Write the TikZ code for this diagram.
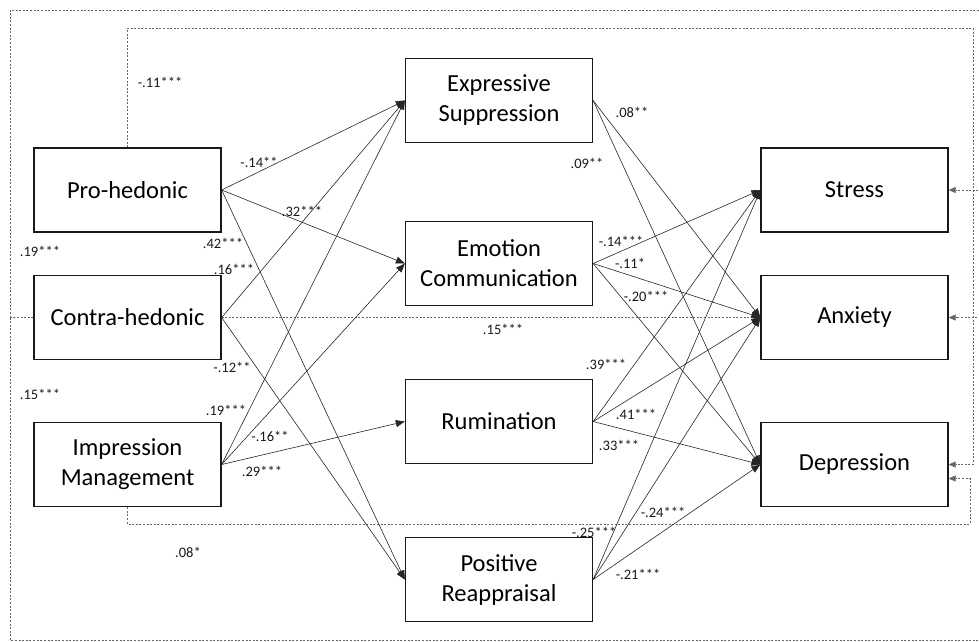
\documentclass[tikz,border=0pt]{standalone}
\usepackage{fontspec}
\setmainfont{Carlito}
\usetikzlibrary{arrows.meta}
\begin{document}
\begin{tikzpicture}[x=1pt,y=-1pt,
  box/.style={draw=black!90, fill=white, line width=1.3pt, minimum width=187pt, minimum height=84pt, inner sep=0pt, align=center, font=\fontsize{24.5}{30}\selectfont},
  arr/.style={draw=black!85, line width=0.6pt, -{Triangle[length=9pt,width=7pt]}},
  cov/.style={draw=black!60, line width=0.6pt, dash pattern=on 2pt off 1.6pt},
  cova/.style={cov, -{Triangle[length=7pt,width=6pt]}},
  lbl/.style={font=\fontsize{14.5}{16}\selectfont, inner sep=0pt, text=black!90},
]
\useasboundingbox (0,0) rectangle (979,641);

% nodes
\node[box] (pro) at (127.5,190) {Pro-hedonic};
\node[box] (con) at (127.5,317.5) {Contra-hedonic};
\node[box] (imp) at (127.5,464.5) {Impression\\Management};
\node[box] (exp) at (499,100.5) {Expressive\\Suppression};
\node[box] (emo) at (499,263.5) {Emotion\\Communication};
\node[box] (rum) at (499,421.5) {Rumination};
\node[box] (pos) at (499,579.5) {Positive\\Reappraisal};
\node[box] (str) at (854.5,190) {Stress};
\node[box] (anx) at (854.5,317.5) {Anxiety};
\node[box] (dep) at (854.5,464.5) {Depression};

% waypoints of the dashed paths
\coordinate (oL) at (10,317.5);
\coordinate (oTL) at (10,10);
\coordinate (oTR) at (992,10);
\coordinate (oBL) at (10,640);
\coordinate (oBR) at (992,640);
\coordinate (iTL) at (127.5,28);
\coordinate (iTR) at (973,28);
\coordinate (iBL) at (127.5,524);
\coordinate (iBR) at (970,524);

% dashed paths
\draw[cov] (con.west) -- (oL);
\draw[cova] (oL) -- (oTL) -- (oTR) |- (str.east);
\draw[cova] (oL) -- (oBL) -- (oBR) |- (anx.east);
\draw[cova] (pro.north) -- (iTL) -- (iTR) |- (dep.east);
\draw[cova] (imp.south) -- (iBL) -- (iBR) |- ([yshift=-14pt]dep.east);
\draw[cova] (con.east) -- (anx.west);

% predictors -> emotion regulation
\draw[arr] (pro.east) -- (exp.west);
\draw[arr] (pro.east) -- (emo.west);
\draw[arr] (pro.east) -- (pos.west);
\draw[arr] (con.east) -- (exp.west);
\draw[arr] (con.east) -- (pos.west);
\draw[arr] (imp.east) -- (exp.west);
\draw[arr] (imp.east) -- (emo.west);
\draw[arr] (imp.east) -- (rum.west);

% emotion regulation -> outcomes
\draw[arr] (exp.east) -- (anx.west);
\draw[arr] (exp.east) -- (dep.west);
\draw[arr] (emo.east) -- (str.west);
\draw[arr] (emo.east) -- (anx.west);
\draw[arr] (emo.east) -- (dep.west);
\draw[arr] (rum.east) -- (str.west);
\draw[arr] (rum.east) -- (anx.west);
\draw[arr] (rum.east) -- (dep.west);
\draw[arr] (pos.east) -- (str.west);
\draw[arr] (pos.east) -- (anx.west);
\draw[arr] (pos.east) -- (dep.west);

% labels
\node[lbl] (l1) at (160,82) {-.11***};
\node[lbl] (l2) at (259,162) {-.14**};
\node[lbl] (l3) at (302,211) {.32***};
\node[lbl] (l4) at (223,243) {.42***};
\node[lbl] (l5) at (40,251) {.19***};
\node[lbl] (l6) at (234,269) {.16***};
\node[lbl] (l7) at (232,367) {-.12**};
\node[lbl] (l8) at (40,394) {.15***};
\node[lbl] (l9) at (226,410) {.19***};
\node[lbl] (l10) at (270,436) {-.16**};
\node[lbl] (l11) at (262,471) {.29***};
\node[lbl] (l12) at (188,552) {.08*};
\node[lbl] (l13) at (503,329) {.15***};
\node[lbl] (l14) at (632,112) {.08**};
\node[lbl] (l15) at (587,163) {.09**};
\node[lbl] (l16) at (621,241) {-.14***};
\node[lbl] (l17) at (630,263) {-.11*};
\node[lbl] (l18) at (646,296) {-.20***};
\node[lbl] (l19) at (606,364) {.39***};
\node[lbl] (l20) at (636,414) {.41***};
\node[lbl] (l21) at (619,445) {.33***};
\node[lbl] (l22) at (663,512) {-.24***};
\node[lbl] (l23) at (594,532) {-.25***};
\node[lbl] (l24) at (638,574) {-.21***};
\end{tikzpicture}
\end{document}
